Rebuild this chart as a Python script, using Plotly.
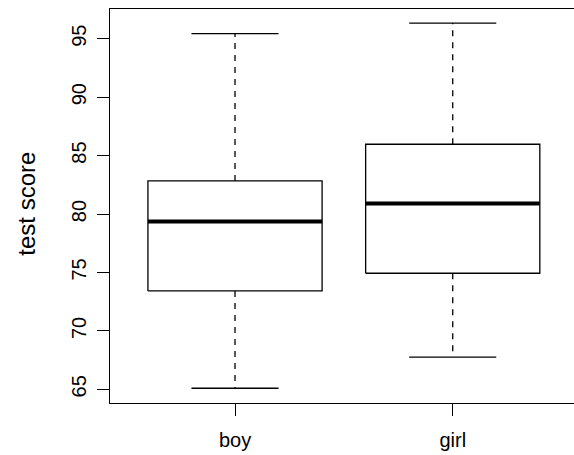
import plotly.graph_objects as go

groups = ["boy", "girl"]
lower_whisker = [65.09, 67.76]
q1 = [73.42, 74.93]
median = [79.35, 80.89]
q3 = [82.83, 85.97]
upper_whisker = [95.43, 96.34]
y_ticks = [65, 70, 75, 80, 85, 90, 95]
y_label = "test score"

BOX_HALF = 0.4
CAP_HALF = 0.2
LINE_W = 1.3

fig = go.Figure()
for i, g in enumerate(groups):
    x = i + 1
    # whiskers (dashed)
    fig.add_trace(go.Scatter(x=[x, x, None, x, x], y=[q3[i], upper_whisker[i], None, q1[i], lower_whisker[i]],
                             mode="lines", line=dict(color="black", width=LINE_W, dash="6px,6px"),
                             hoverinfo="skip", showlegend=False))
    # caps
    fig.add_trace(go.Scatter(x=[x - CAP_HALF, x + CAP_HALF, None, x - CAP_HALF, x + CAP_HALF],
                             y=[upper_whisker[i], upper_whisker[i], None, lower_whisker[i], lower_whisker[i]],
                             mode="lines", line=dict(color="black", width=LINE_W),
                             hoverinfo="skip", showlegend=False))
    # box
    fig.add_trace(go.Scatter(x=[x - BOX_HALF, x + BOX_HALF, x + BOX_HALF, x - BOX_HALF, x - BOX_HALF],
                             y=[q1[i], q1[i], q3[i], q3[i], q1[i]],
                             mode="lines", fill="toself", fillcolor="white",
                             line=dict(color="black", width=LINE_W),
                             hoverinfo="skip", showlegend=False, name=g))
    # median
    fig.add_trace(go.Scatter(x=[x - BOX_HALF, x + BOX_HALF], y=[median[i], median[i]],
                             mode="lines", line=dict(color="black", width=4),
                             hoverinfo="skip", showlegend=False))

font_family = "Liberation Sans, Arial, Helvetica, sans-serif"
fig.update_layout(
    width=574, height=455,
    margin=dict(l=110, r=0, t=9, b=52, autoexpand=False),
    plot_bgcolor="white", paper_bgcolor="white",
    font=dict(family=font_family, color="black", size=20),
    xaxis=dict(range=[0.4258, 2.557], tickvals=[1, 2], ticktext=groups, automargin=False,
               showline=True, mirror=True, linecolor="black", linewidth=1,
               ticks="outside", ticklen=12, tickcolor="black", tickwidth=1,
               showgrid=False, zeroline=False, tickfont=dict(size=20), ticklabelstandoff=7),
    yaxis=dict(range=[63.83, 97.54], tickvals=y_ticks, automargin=False,
               showline=True, mirror=False, linecolor="black", linewidth=1,
               ticks="outside", ticklen=12, tickcolor="black", tickwidth=1,
               showgrid=False, zeroline=False, tickangle=-90, tickfont=dict(size=20),
               ticklabelstandoff=3),
    annotations=[dict(text=y_label, textangle=-90, xref="paper", yref="paper",
                      x=-0.1817, y=0.505, xanchor="center", yanchor="middle",
                      showarrow=False, font=dict(size=24))],
)
fig.write_html("out.html", config={"displayModeBar": False},
               post_script="document.body.style.margin='0';")
